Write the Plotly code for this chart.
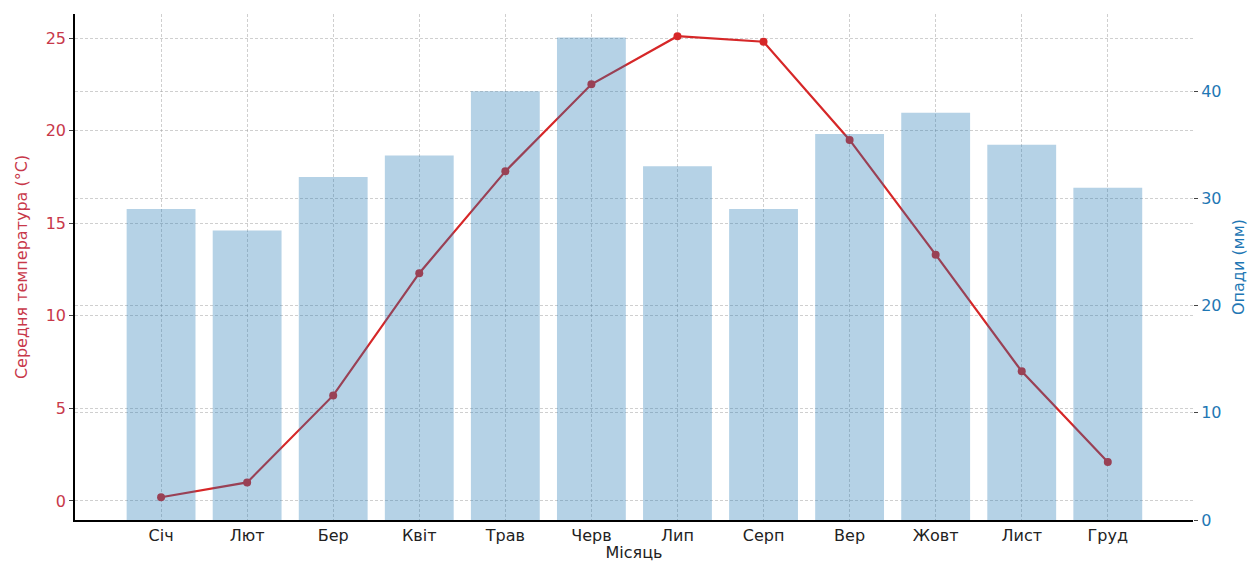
import plotly.graph_objects as go

months = ["Січ", "Лют", "Бер", "Квіт", "Трав", "Черв", "Лип", "Серп", "Вер", "Жовт", "Лист", "Груд"]
temperature = [0.2, 1.0, 5.7, 12.3, 17.8, 22.5, 25.1, 24.8, 19.5, 13.3, 7.0, 2.1]
precipitation = [29, 27, 32, 34, 40, 45, 33, 29, 36, 38, 35, 31]

RED = "#d62728"
RED_TXT = "#c8384a"
BLUE = "#1f77b4"
FONT = "DejaVu Sans"

fig = go.Figure()
fig.add_trace(go.Scatter(
    x=months, y=temperature, mode="lines+markers",
    line=dict(color=RED, width=2.2),
    marker=dict(color=RED, size=8),
    yaxis="y", showlegend=False,
))
fig.add_trace(go.Bar(
    x=months, y=precipitation, width=0.8,
    marker=dict(color="rgba(31,119,180,0.33)", line=dict(width=0)),
    yaxis="y2", showlegend=False,
))

grid = dict(showgrid=True, gridcolor="rgba(160,160,160,0.5)", griddash="3px,2px", gridwidth=1)

fig.update_layout(
    width=1253, height=562,
    margin=dict(l=75, r=60, t=14, b=42),
    paper_bgcolor="white", plot_bgcolor="white",
    font=dict(family=FONT, size=15, color="#222"),
    xaxis=dict(
        type="category", range=[-1.0, 11.99], automargin=False,
        title=dict(text="Місяць", font=dict(size=16, color="#222"), standoff=0),
        tickfont=dict(size=16, color="#222"),
        showline=True, linecolor="black", linewidth=1.5,
        ticks="", ticklen=0,
        **grid,
    ),
    yaxis=dict(
        range=[-1.03, 26.3], automargin=False,
        tickvals=[0, 5, 10, 15, 20, 25],
        title=dict(text="Середня температура (°C)", font=dict(size=16, color=RED_TXT), standoff=14),
        tickfont=dict(size=16, color=RED_TXT),
        showline=True, linecolor="black", linewidth=1.5,
        ticks="outside", ticklen=4, tickcolor="#444",
        zeroline=False,
        **grid,
    ),
    yaxis2=dict(
        overlaying="y", side="right", automargin=False,
        range=[0, 47.2],
        tickvals=[0, 10, 20, 30, 40],
        title=dict(text="Опади (мм)", font=dict(size=16, color=BLUE), standoff=12),
        tickfont=dict(size=16, color=BLUE),
        showline=False,
        ticks="outside", ticklen=4, tickcolor="#444",
        zeroline=False,
        **grid,
    ),
    bargap=0.2,
)

fig.write_html("out.html", config={"displayModeBar": False},
               post_script="document.body.style.margin='0';document.body.style.overflow='hidden';")
